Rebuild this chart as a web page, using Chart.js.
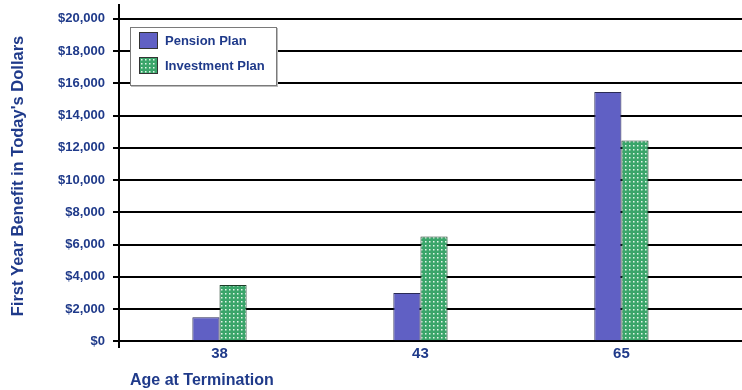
<!DOCTYPE html>
<html>
<head>
<meta charset="utf-8">
<script src="https://cdn.jsdelivr.net/npm/chart.js@4/dist/chart.umd.min.js"></script>
<style>
  html, body { margin: 0; padding: 0; background: #fff; }
  #wrap { position: relative; width: 742px; height: 390px; }
  #legend { position: absolute; left: 130px; top: 27px; width: 145px; height: 57px;
    border: 1px solid #7a7a7a; background: #fff; box-shadow: 1px 1px 0 #bbb;
    font-family: "Liberation Sans", Arial, sans-serif; font-weight: bold; font-size: 13px; color: #1f3a8a; }
  .item { position: absolute; left: 8px; height: 17px; display: flex; align-items: center; }
  .sw { width: 17px; height: 15px; border: 1px solid #333; margin-right: 7px; box-sizing: content-box; }
</style>
</head>
<body>
<div id="wrap">
  <canvas id="c" width="742" height="390"></canvas>
  <div id="legend"></div>
</div>
<script>
const categories = ['38', '43', '65'];
const pensionPlan = [1500, 3000, 15450];
const investmentPlan = [3500, 6500, 12450];
const yTicks = [0, 2000, 4000, 6000, 8000, 10000, 12000, 14000, 16000, 18000, 20000];
const seriesNames = ['Pension Plan', 'Investment Plan'];
const xTitle = 'Age at Termination';
const yTitle = "First Year Benefit in Today's Dollars";

const navy = '#1f3a8a';
const purple = '#6060c4';
const green = '#3aa56a';
const fontFamily = '"Liberation Sans", Arial, sans-serif';

function makeDots() {
  const p = document.createElement('canvas');
  p.width = 4; p.height = 4;
  const g = p.getContext('2d');
  g.fillStyle = green; g.fillRect(0, 0, 4, 4);
  g.fillStyle = 'rgba(235,250,240,0.95)';
  g.fillRect(1, 1, 1.5, 1.5);
  return p;
}
const dotCanvas = makeDots();
const ctx = document.getElementById('c').getContext('2d');
const dotPattern = ctx.createPattern(dotCanvas, 'repeat');

const font = { family: fontFamily, weight: 'bold' };

const xTitlePlugin = {
  id: 'xTitleStart',
  afterDraw(chart) {
    const c = chart.ctx;
    c.save();
    c.font = 'bold 16px ' + fontFamily;
    c.fillStyle = navy;
    c.textAlign = 'left';
    c.textBaseline = 'middle';
    c.fillText(xTitle, chart.chartArea.left + 11, chart.height - 9);
    c.restore();
  }
};

const chart = new Chart(ctx, {
  type: 'bar',
  data: {
    datasets: [
      { label: seriesNames[0], data: pensionPlan.map((v, i) => ({ x: i, y: v })),
        backgroundColor: purple, borderColor: '#2a2a55', borderWidth: 1 },
      { label: seriesNames[1], data: investmentPlan.map((v, i) => ({ x: i, y: v })),
        backgroundColor: dotPattern, borderColor: '#1d3d28', borderWidth: 1 }
    ]
  },
  plugins: [xTitlePlugin],
  options: {
    responsive: false,
    animation: false,
    layout: { padding: { top: 5, right: 0, bottom: 29, left: 0 } },
    datasets: { bar: { categoryPercentage: 0.27, barPercentage: 1.0 } },
    plugins: { legend: { display: false }, tooltip: { enabled: false } },
    scales: {
      x: {
        type: 'linear',
        offset: false,
        min: -0.5, max: 2.6,
        afterBuildTicks: s => { s.ticks = categories.map((c, i) => ({ value: i })); },
        afterFit: s => { s.paddingLeft = 0; s.paddingRight = 0; },
        ticks: { callback: (v) => categories[v] ?? '', color: navy, font: { ...font, size: 15 }, padding: -2 },
        grid: { display: false, drawTicks: false },
        border: { display: false }
      },
      y: {
        min: -350, max: 20850,
        afterBuildTicks: s => { s.ticks = yTicks.map(v => ({ value: v })); },
        afterFit: s => { s.width = 119; s.paddingTop = 0; s.paddingBottom = 0; },
        ticks: { callback: v => '$' + v.toLocaleString('en-US'), color: navy,
          font: { ...font, size: 13 }, padding: 8 },
        grid: { color: '#000', lineWidth: 2, tickLength: 6, drawTicks: true },
        border: { color: '#000', width: 2 },
        title: { display: true, text: yTitle, color: navy,
          font: { ...font, size: 16.5 }, padding: { top: 9, bottom: 0 } }
      }
    }
  }
});

// HTML legend generated from the chart's datasets
const leg = document.getElementById('legend');
chart.data.datasets.forEach((ds, i) => {
  const item = document.createElement('div');
  item.className = 'item';
  item.style.top = (4 + i * 25) + 'px';
  const sw = document.createElement('div');
  sw.className = 'sw';
  if (i === 0) sw.style.background = purple;
  else sw.style.background = 'url(' + dotCanvas.toDataURL() + ')';
  item.appendChild(sw);
  const t = document.createElement('span');
  t.textContent = ds.label;
  item.appendChild(t);
  leg.appendChild(item);
});
</script>
</body>
</html>
